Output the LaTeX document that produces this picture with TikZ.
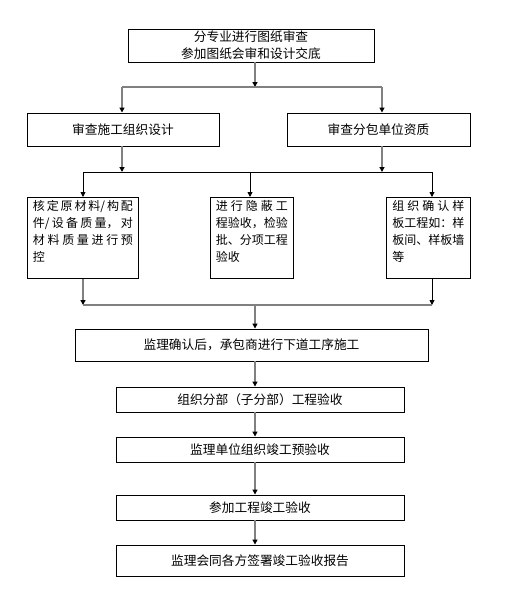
\documentclass[tikz,border=0pt]{standalone}
\usepackage{fontspec}
\setmainfont{Noto Sans CJK SC}
\usetikzlibrary{arrows.meta,positioning}
\XeTeXlinebreaklocale "zh"
\XeTeXlinebreakskip=0pt plus 3pt

\begin{document}
\begin{tikzpicture}[x=1pt,y=-1pt,->,>={Triangle[width=5pt,length=5pt,color=black]},
    font=\fontsize{12.7pt}{17pt}\selectfont]
  \tikzstyle{box}=[draw=black,line width=0.9pt,inner sep=0pt,align=center]
  \tikzstyle{note}=[box,anchor=north west,inner xsep=5.5pt,inner ysep=2.5pt,
    font=\fontsize{12pt}{17pt}\selectfont]
  \tikzstyle{gline}=[draw=black!50,line width=1.3pt]
  \tikzstyle{bline}=[draw=black,line width=0.9pt]
  \useasboundingbox (0,0) rectangle (531,595);

  \node[box,minimum width=246pt,minimum height=33pt] (plan) at (251,45.5) {分专业进行图纸审查\\参加图纸会审和设计交底};
  \node[box,minimum width=192pt,minimum height=33pt] (design) at (123,129.5) {审查施工组织设计};
  \node[box,minimum width=183pt,minimum height=33pt] (subcon) at (378.5,129.5) {审查分包单位资质};

  \node[note] (mat) at (27,197) {\parbox[c][76pt][t]{100pt}{核定原材料/构配\linebreak 件/设备质量，对\linebreak 材料质量进行预\linebreak 控}};
  \node[note] (hidden) at (210,197) {\parbox[c][76pt][t]{72pt}{进行隐蔽工\linebreak 程验收，检验\linebreak 批、分项工程\linebreak 验收}};
  \node[note,inner xsep=6pt] (sample) at (386,197) {\parbox[c][76pt][t]{72pt}{组织确认样\linebreak 板工程如：样\linebreak 板间、样板墙\linebreak 等}};

  \node[box,minimum width=353pt,minimum height=32pt] (next) at (251.5,345) {监理确认后，承包商进行下道工序施工};
  \node[box,minimum width=288pt,minimum height=25pt] (part) at (260,399.5) {组织分部（子分部）工程验收};
  \node[box,minimum width=288pt,minimum height=25pt] (pre) at (260,449.5) {监理单位组织竣工预验收};
  \node[box,minimum width=288pt,minimum height=25pt] (final) at (260,507.5) {参加工程竣工验收};
  \node[box,minimum width=288pt,minimum height=31pt] (report) at (260,560.5) {监理会同各方签署竣工验收报告};

  % junctions
  \coordinate (s1) at (255,87);
  \coordinate (s1l) at (122,87);
  \coordinate (s1r) at (382,87);
  \coordinate (s2l) at (83,172);
  \coordinate (s2m) at (250,172);
  \coordinate (s2r) at (432,172);
  \coordinate (s3l) at (83,305);
  \coordinate (s3m) at (255,305);
  \coordinate (s3r) at (432,305);

  \draw[gline] (plan.south -| s1) -- (s1);
  \draw[gline,-] (s1l) -- (s1r);
  \draw[gline] (s1l) -- (s1l |- design.north);
  \draw[gline] (s1r) -- (s1r |- subcon.north);
  \draw[gline] (design.south -| s1l) -- (s1l |- s2l);
  \draw[gline] (subcon.south -| s1r) -- (s1r |- s2r);
  \draw[bline,-] (s2l) -- (s2r);
  \draw[bline] (s2l) -- (s2l |- mat.north);
  \draw[bline] (s2m) -- (s2m |- hidden.north);
  \draw[bline] (s2r) -- (s2r |- sample.north);
  \draw[gline] (mat.south -| s3l) -- (s3l);
  \draw[bline] (sample.south -| s3r) -- (s3r);
  \draw[gline,-] (s3l) -- (s3r);
  \draw[gline] (s3m) -- (s3m |- next.north);
  \draw[gline] (next.south -| s3m) -- (s3m |- part.north);
  \draw[gline] (part.south -| s3m) -- (s3m |- pre.north);
  \draw[gline] (pre.south -| s3m) -- (s3m |- final.north);
  \draw[gline] (final.south -| s3m) -- (s3m |- report.north);
\end{tikzpicture}
\end{document}
